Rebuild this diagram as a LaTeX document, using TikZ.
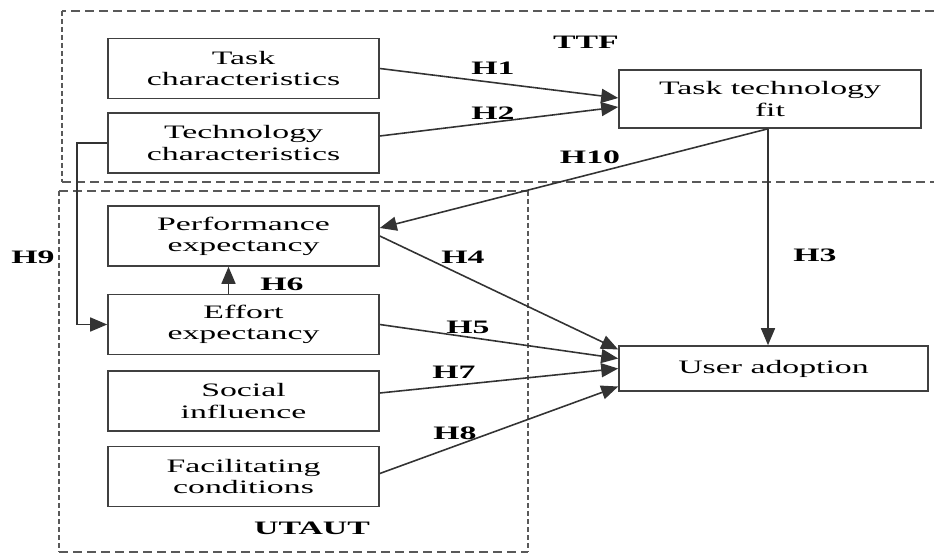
\documentclass[tikz,border=0pt]{standalone}
\usepackage{fontspec}
\setmainfont[FakeStretch=1.78]{Liberation Serif}
\usetikzlibrary{arrows.meta}

\begin{document}
\begin{tikzpicture}[x=0.2mm, y=-0.2mm, node distance=15mm,
  box/.style={draw=black!75, line width=0.9pt, align=center, inner sep=0pt,
    minimum width=54.2mm, minimum height=12mm, font=\fontsize{10.8}{12}\selectfont},
  hyp/.style={font=\fontsize{10.8}{12}\selectfont\bfseries},
  arr/.style={draw=black!80, line width=0.9pt, -{Triangle[length=3.4mm, width=2.8mm]}},
  hdash/.style={draw=black!65, line width=0.9pt, dash pattern=on 1.8mm off 1mm},
  vdash/.style={draw=black!65, line width=0.9pt, dash pattern=on 1mm off 0.6mm}]
\useasboundingbox (0,0) rectangle (934,554);

% frames
\draw[hdash] (934,11) -- (62,11);
\draw[vdash] (62,11) -- (62,182);
\draw[hdash] (62,182) -- (934,182);
\draw[hdash] (59,191) -- (528,191);
\draw[hdash] (59,552) -- (528,552);
\draw[vdash] (59,191) -- (59,552);
\draw[vdash] (528,191) -- (528,552);
\node[hyp] (ttf) at (586,42) {TTF};
\node[hyp] (utaut) at (312,528) {UTAUT};

% constructs
\node[box] (task) at (243.5,68.5) {Task\\characteristics};
\node[box, below of=task, node distance=14.9mm] (tech) {Technology\\characteristics};
\node[box, below of=tech, node distance=18.6mm] (perf) {Performance\\expectancy};
\node[box, below of=perf, node distance=17.7mm] (effort) {Effort\\expectancy};
\node[box, below of=effort, node distance=15.3mm] (social) {Social\\influence};
\node[box, below of=social, node distance=15.1mm] (facil) {Facilitating\\conditions};
\node[box, minimum width=60.4mm, minimum height=11.6mm] (fit) at (770,99) {Task technology\\fit};
\node[box, minimum width=61.8mm, minimum height=9mm] (adopt) at (773.5,368.5) {User adoption};

% hypotheses
\coordinate (fitout) at ([xshift=-0.4mm]fit.south);
\draw[arr] (task.east) -- ([yshift=0.2mm]fit.west);
\draw[arr] ([yshift=1.4mm]tech.east) -- ([yshift=-1.6mm]fit.west);
\draw[arr] (fitout) -- ([yshift=1.6mm]perf.east);
\draw[arr] (fitout) -- (fitout |- adopt.north);
\draw[arr] (perf.east) -- ([yshift=3.8mm]adopt.west);
\draw[arr] (effort.east) -- ([yshift=2mm]adopt.west);
\draw[arr] ([yshift=1.6mm]social.east) -- (adopt.west);
\draw[arr] ([yshift=0.6mm]facil.east) -- ([yshift=-3.6mm]adopt.west);
\draw[arr] ([xshift=-3mm]effort.north) -- ([xshift=-3mm]perf.south);
\draw[arr] (tech.west) -- ++(-30,0) |- (effort.west);

\node[hyp] (h1) at (493,68) {H1};
\node[hyp] (h2) at (493,113) {H2};
\node[hyp] (h10) at (590,157) {H10};
\node[hyp] (h3) at (815,255) {H3};
\node[hyp] (h4) at (463,257) {H4};
\node[hyp] (h5) at (468,327) {H5};
\node[hyp] (h6) at (282,284) {H6};
\node[hyp] (h7) at (454,372) {H7};
\node[hyp] (h8) at (455,433) {H8};
\node[hyp] (h9) at (33,257) {H9};
\end{tikzpicture}
\end{document}
